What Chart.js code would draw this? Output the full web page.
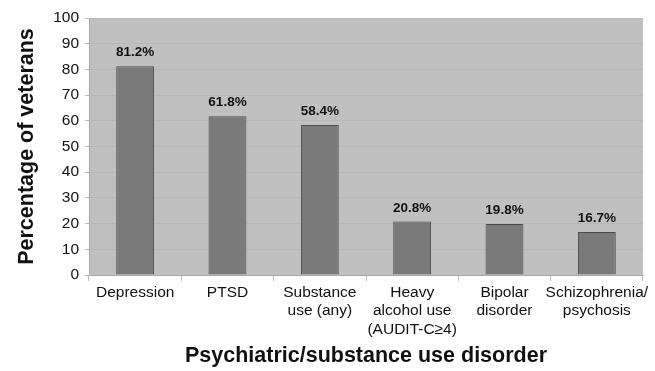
<!DOCTYPE html>
<html>
<head>
<meta charset="utf-8">
<script src="https://cdn.jsdelivr.net/npm/chart.js@4"></script>
<style>
  html, body { margin: 0; padding: 0; background: #fff; }
  #wrap { width: 655px; height: 371px; }
</style>
</head>
<body>
<div id="wrap"><canvas id="chart" width="655" height="371"></canvas></div>
<script>
const categories = [
    'Depression',
    'PTSD',
    ['Substance', 'use (any)'],
    ['Heavy', 'alcohol use', '(AUDIT-C\u22654)'],
    ['Bipolar', 'disorder'],
    ['Schizophrenia/', 'psychosis']
];
const percentages = [81.2, 61.8, 58.4, 20.8, 19.8, 16.7];
const yTicks = [0, 10, 20, 30, 40, 50, 60, 70, 80, 90, 100];

const FONT = '"Liberation Sans", Arial, sans-serif';

// paint the grey plot background and value labels
const plotExtras = {
    id: 'plotExtras',
    beforeDraw: function (chart) {
        const a = chart.chartArea;
        const ctx = chart.ctx;
        ctx.save();
        ctx.fillStyle = '#c0c0c0';
        ctx.fillRect(a.left, a.top, a.right - a.left, a.bottom - a.top);
        ctx.restore();
    },
    afterDatasetsDraw: function (chart) {
        const ctx = chart.ctx;
        const meta = chart.getDatasetMeta(0);
        ctx.save();
        ctx.font = 'bold 13.5px ' + FONT;
        ctx.fillStyle = '#111';
        ctx.textAlign = 'center';
        ctx.textBaseline = 'bottom';
        meta.data.forEach(function (bar, i) {
            ctx.fillText(percentages[i].toFixed(1) + '%', bar.x, bar.y - 7);
        });
        ctx.restore();
    }
};

new Chart(document.getElementById('chart'), {
    type: 'bar',
    data: {
        labels: categories,
        datasets: [{
            data: percentages,
            backgroundColor: '#7a7a7a',
            borderColor: '#4a4a4a',
            borderWidth: 1,
            categoryPercentage: 1,
            barPercentage: 0.41
        }]
    },
    options: {
        responsive: false,
        animation: false,
        layout: { padding: { left: 6, right: 12, top: 18, bottom: 2 } },
        plugins: {
            legend: { display: false },
            tooltip: { enabled: false }
        },
        scales: {
            x: {
                grid: {
                    offset: true,
                    drawOnChartArea: false,
                    tickLength: 6,
                    color: '#bdbdbd'
                },
                border: { color: '#a8a8a8' },
                ticks: {
                    color: '#111',
                    font: { family: FONT, size: 15.5 },
                    maxRotation: 0,
                    autoSkip: false,
                    padding: 2
                },
                title: {
                    display: true,
                    text: 'Psychiatric/substance use disorder',
                    color: '#111',
                    font: { family: FONT, size: 21.5, weight: 'bold' },
                    padding: { top: 8, bottom: 0 }
                },
                afterFit: function (scale) { scale.height = 94; }
            },
            y: {
                min: 0,
                max: 100,
                afterBuildTicks: function (scale) {
                    scale.ticks = yTicks.map(function (v) { return { value: v }; });
                },
                grid: {
                    color: '#b8b8b8',
                    tickLength: 4,
                    drawTicks: true
                },
                border: { color: '#a8a8a8' },
                ticks: {
                    color: '#111',
                    font: { family: FONT, size: 15.5 },
                    padding: 6
                },
                title: {
                    display: true,
                    text: 'Percentage of veterans',
                    color: '#111',
                    font: { family: FONT, size: 21.5, weight: 'bold' },
                    padding: { top: 8, bottom: 4 }
                },
                afterFit: function (scale) { scale.width = 83; }
            }
        }
    },
    plugins: [plotExtras]
});
</script>
</body>
</html>
